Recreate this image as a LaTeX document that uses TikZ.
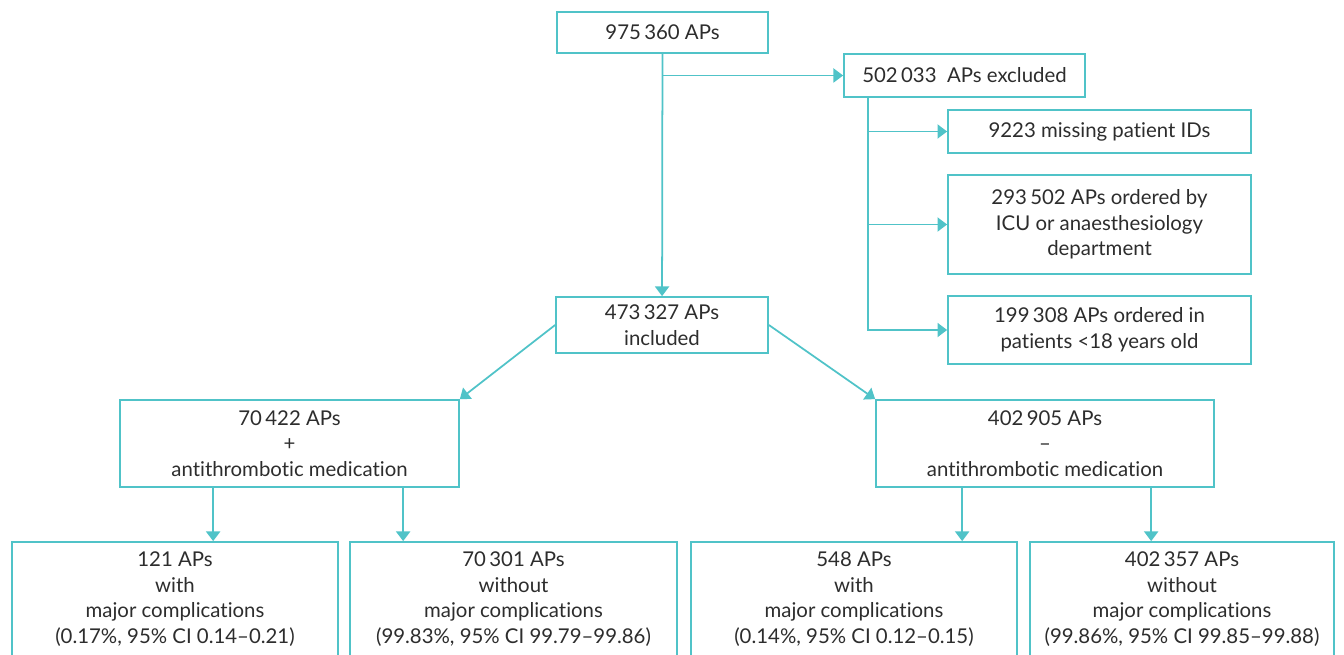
\documentclass[tikz,border=0pt]{standalone}
\usepackage{fontspec}
\setmainfont{Lato}[Ligatures={NoCommon}]
\usepackage{tikz}
\usetikzlibrary{arrows.meta, positioning, calc}

\definecolor{apteal}{RGB}{80,195,200}
\definecolor{aptext}{RGB}{45,45,45}

\begin{document}
\begin{tikzpicture}[
    x=0.02cm, y=-0.02cm,
    block/.style={
        rectangle, draw=apteal, line width=1pt, fill=white,
        inner sep=0pt, align=center, text=aptext,
        font=\fontsize{11.6}{14.6}\selectfont
    },
    arrow/.style={-{Triangle[length=5.5pt, width=8pt]}, line width=1pt, draw=apteal}
]
\useasboundingbox (0,0) rectangle (1344,655);

% Selection (top)
\node[block, minimum width=4.22cm, minimum height=0.82cm] (total) at (662.5, 32.5) {975\,360 APs};
\node[block, minimum width=4.82cm, minimum height=0.86cm] (excl) at (964.5, 75.5) {502\,033\ \ APs excluded};

\node[block, minimum width=6.06cm, minimum height=0.86cm] (noid) at (1099.5, 131.5) {9223 missing patient IDs};
\node[block, minimum width=6.06cm, minimum height=1.98cm] (icu) at (1099.5, 224.5) {293\,502 APs ordered by\\ICU or anaesthesiology\\department};
\node[block, minimum width=6.06cm, minimum height=1.36cm] (young) at (1099.5, 330) {199\,308 APs ordered in\\patients <18 years old};

\node[block, minimum width=4.24cm, minimum height=1.12cm] (incl) at (662, 325) {473\,327 APs\\included};

\coordinate (split) at (total |- excl);
\coordinate (spine) at ($(excl.south west)+(25,0)$);

\draw[arrow] (total) -- (incl);
\draw[arrow] (split) -- (excl.west);
\draw[arrow] (spine) |- (young.west);
\draw[arrow] (spine |- noid.west) -- (noid.west);
\draw[arrow] (spine |- icu.west) -- (icu.west);

% Antithrombotic medication groups
\node[block, minimum width=6.78cm, minimum height=1.74cm] (withmed) at (289.5, 443.5) {70\,422 APs\\+\\antithrombotic medication};
\node[block, minimum width=6.76cm, minimum height=1.74cm] (nomed) at (1045, 443.5) {402\,905 APs\\--\\antithrombotic medication};

\draw[arrow] (incl.west) -- (withmed.north east);
\draw[arrow] (incl.east) -- (nomed.north west);

% Outcomes (bottom)
\node[block, minimum width=6.52cm, minimum height=2.28cm] (wm_comp) at (175, 599) {121 APs\\with\\major complications\\(0.17\%, 95\% CI 0.14--0.21)};
\node[block, minimum width=6.54cm, minimum height=2.28cm] (wm_none) at (513.5, 599) {70\,301 APs\\without\\major complications\\(99.83\%, 95\% CI 99.79--99.86)};
\node[block, minimum width=6.52cm, minimum height=2.28cm] (nm_comp) at (854, 599) {548 APs\\with\\major complications\\(0.14\%, 95\% CI 0.12--0.15)};
\node[block, minimum width=6.08cm, minimum height=2.28cm] (nm_none) at (1182, 599) {402\,357 APs\\without\\major complications\\(99.86\%, 95\% CI 99.85--99.88)};

\coordinate (wm_a) at ($(withmed.south west)+(94,0)$);
\coordinate (wm_b) at ($(withmed.south west)+(284,0)$);
\coordinate (nm_a) at ($(nomed.south west)+(87,0)$);
\coordinate (nm_b) at ($(nomed.south west)+(276,0)$);

\draw[arrow] (wm_a) -- (wm_a |- wm_comp.north);
\draw[arrow] (wm_b) -- (wm_b |- wm_none.north);
\draw[arrow] (nm_a) -- (nm_a |- nm_comp.north);
\draw[arrow] (nm_b) -- (nm_b |- nm_none.north);

\end{tikzpicture}
\end{document}
